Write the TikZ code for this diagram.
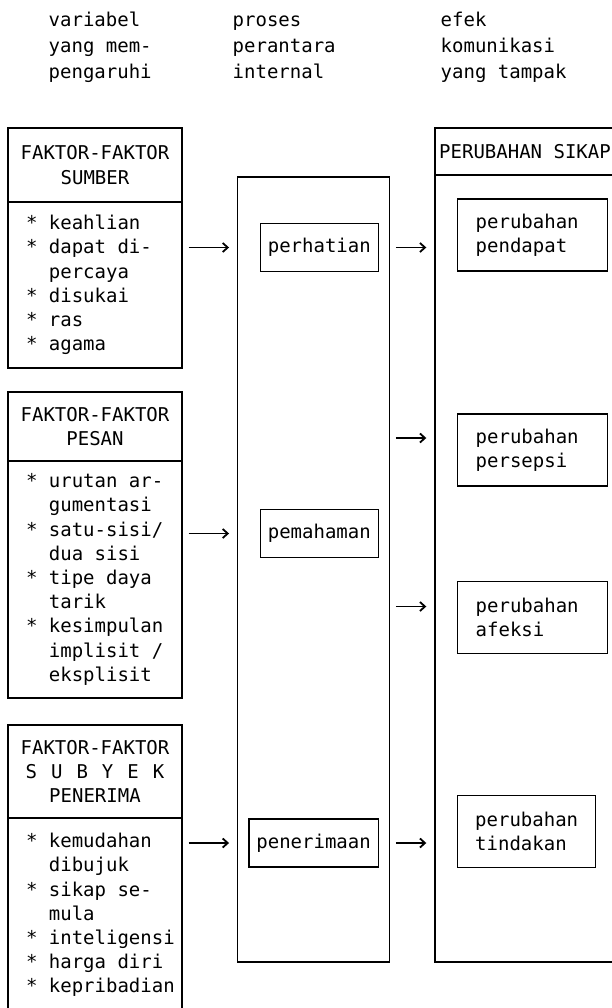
\documentclass[tikz,border=0pt]{standalone}
\usepackage{fontspec}
\setmainfont{DejaVu Sans Mono}
\usetikzlibrary{positioning,arrows.meta}

\newcommand{\sel}{\fontcharwd\font`\x}
\newcommand{\huruf}[1]{\fontsize{19pt}{#1}\selectfont\spaceskip=\sel\relax}
\newcommand{\butir}[1]{\mbox{\spaceskip=\sel\relax*\hspace{\sel}#1}}
\newcommand{\lanjut}[1]{\mbox{\spaceskip=\sel\relax\hspace{2\sel}#1}}

\begin{document}
\begin{tikzpicture}[x=1pt, y=-1pt, line width=1.4pt, font=\huruf{24.2pt}]
	% Definición de estilos
	\tikzstyle{judul} = [anchor=base west, align=left, inner sep=0pt, font=\huruf{26pt}]
	\tikzstyle{faktor} = [rectangle, draw, minimum width=174pt, align=center, inner sep=0pt]
	\tikzstyle{isi} = [rectangle, draw, minimum width=174pt, text width=138pt, inner xsep=18pt, align=left]
	\tikzstyle{tahap} = [rectangle, draw, minimum height=48pt, inner xsep=7.5pt, anchor=east]
	\tikzstyle{efek} = [rectangle, draw, minimum height=72pt, text width=114pt, inner xsep=18pt, align=left, anchor=west]
	\tikzstyle{line} = [draw, -{Straight Barb[length=5pt,width=9pt,line width=1.8pt]}, shorten <=6pt, shorten >=8pt]

	\useasboundingbox (0,0) rectangle (611,1008);

	% Etiquetas (ancladas en la última línea)
	\node [judul] (lblvariabel) at (48,79) {variabel\\yang mem-\\pengaruhi};
	\node [judul] (lblproses) at (232,79) {proses\\perantara\\internal};
	\node [judul] (lblefek) at (440,79) {efek\\komunikasi\\yang tampak};

	% Nodos
	\node [faktor, minimum height=74pt] (sumber) at (95,165) {FAKTOR-FAKTOR\\SUMBER};
	\node [isi, below of=sumber, node distance=120pt, minimum height=166pt] (sumberisi)
		{\butir{keahlian}\\ \butir{dapat di-}\\ \lanjut{percaya}\\ \butir{disukai}\\ \butir{ras}\\ \butir{agama}};

	\node [faktor, minimum height=69pt] (pesan) at (95,426.5) {FAKTOR-FAKTOR\\PESAN};
	\node [isi, below of=pesan, node distance=153pt, minimum height=237pt] (pesanisi)
		{\butir{urutan ar-}\\ \lanjut{gumentasi}\\ \butir{satu-sisi/}\\ \lanjut{dua sisi}\\ \butir{tipe daya}\\ \lanjut{tarik}\\ \butir{kesimpulan}\\ \lanjut{implisit /}\\ \lanjut{eksplisit}};

	\node [faktor, minimum height=93pt] (subyek) at (95,771.5)
		{FAKTOR-FAKTOR\\S\hspace{14pt}U\hspace{14pt}B\hspace{14pt}Y\hspace{14pt}E\hspace{14pt}K\\PENERIMA};
	\node [isi, below of=subyek, node distance=143.5pt, minimum height=194pt] (subyekisi)
		{\butir{kemudahan}\\ \lanjut{dibujuk}\\ \butir{sikap se-}\\ \lanjut{mula}\\ \butir{inteligensi}\\ \butir{harga diri}\\ \butir{kepribadian}};

	\node [rectangle, draw, minimum width=151.5pt, minimum height=785pt] (perantara) at (313.5,569.5) {};
	\node [tahap] (perhatian) at (379,247.5) {perhatian};
	\node [tahap] (pemahaman) at (379,533.5) {pemahaman};
	\node [tahap] (penerimaan) at (379,843) {penerimaan};

	\node [faktor, minimum width=180pt, minimum height=47pt] (sikap) at (525,151.5) {PERUBAHAN SIKAP};
	\node [rectangle, draw, minimum width=180pt, minimum height=787pt, below of=sikap, node distance=417pt] (efekisi) {};
	\node [efek] (pendapat) at (457,235) {perubahan\\pendapat};
	\node [efek] (persepsi) at (457,450) {perubahan\\persepsi};
	\node [efek] (afeksi) at (457,617.5) {perubahan\\afeksi};
	\node [efek, text width=103pt, inner xsep=17.5pt] (tindakan) at (457,831.5) {perubahan\\tindakan};

	\coordinate (kepersepsi) at ([yshift=12pt]persepsi.west);
	\coordinate (keafeksi) at ([yshift=11pt]afeksi.west);

	% Conexiones
	\path [line] (perhatian.west -| sumberisi.east) -- (perhatian.west -| perantara.west);
	\path [line] (pemahaman.west -| pesanisi.east) -- (pemahaman.west -| perantara.west);
	\path [line] (penerimaan.west -| subyekisi.east) -- (penerimaan.west -| perantara.west);
	\path [line] (perhatian.east -| perantara.east) -- (perhatian.east -| efekisi.west);
	\path [line] (kepersepsi -| perantara.east) -- (kepersepsi -| efekisi.west);
	\path [line] (keafeksi -| perantara.east) -- (keafeksi -| efekisi.west);
	\path [line] (penerimaan.east -| perantara.east) -- (penerimaan.east -| efekisi.west);
\end{tikzpicture}
\end{document}
